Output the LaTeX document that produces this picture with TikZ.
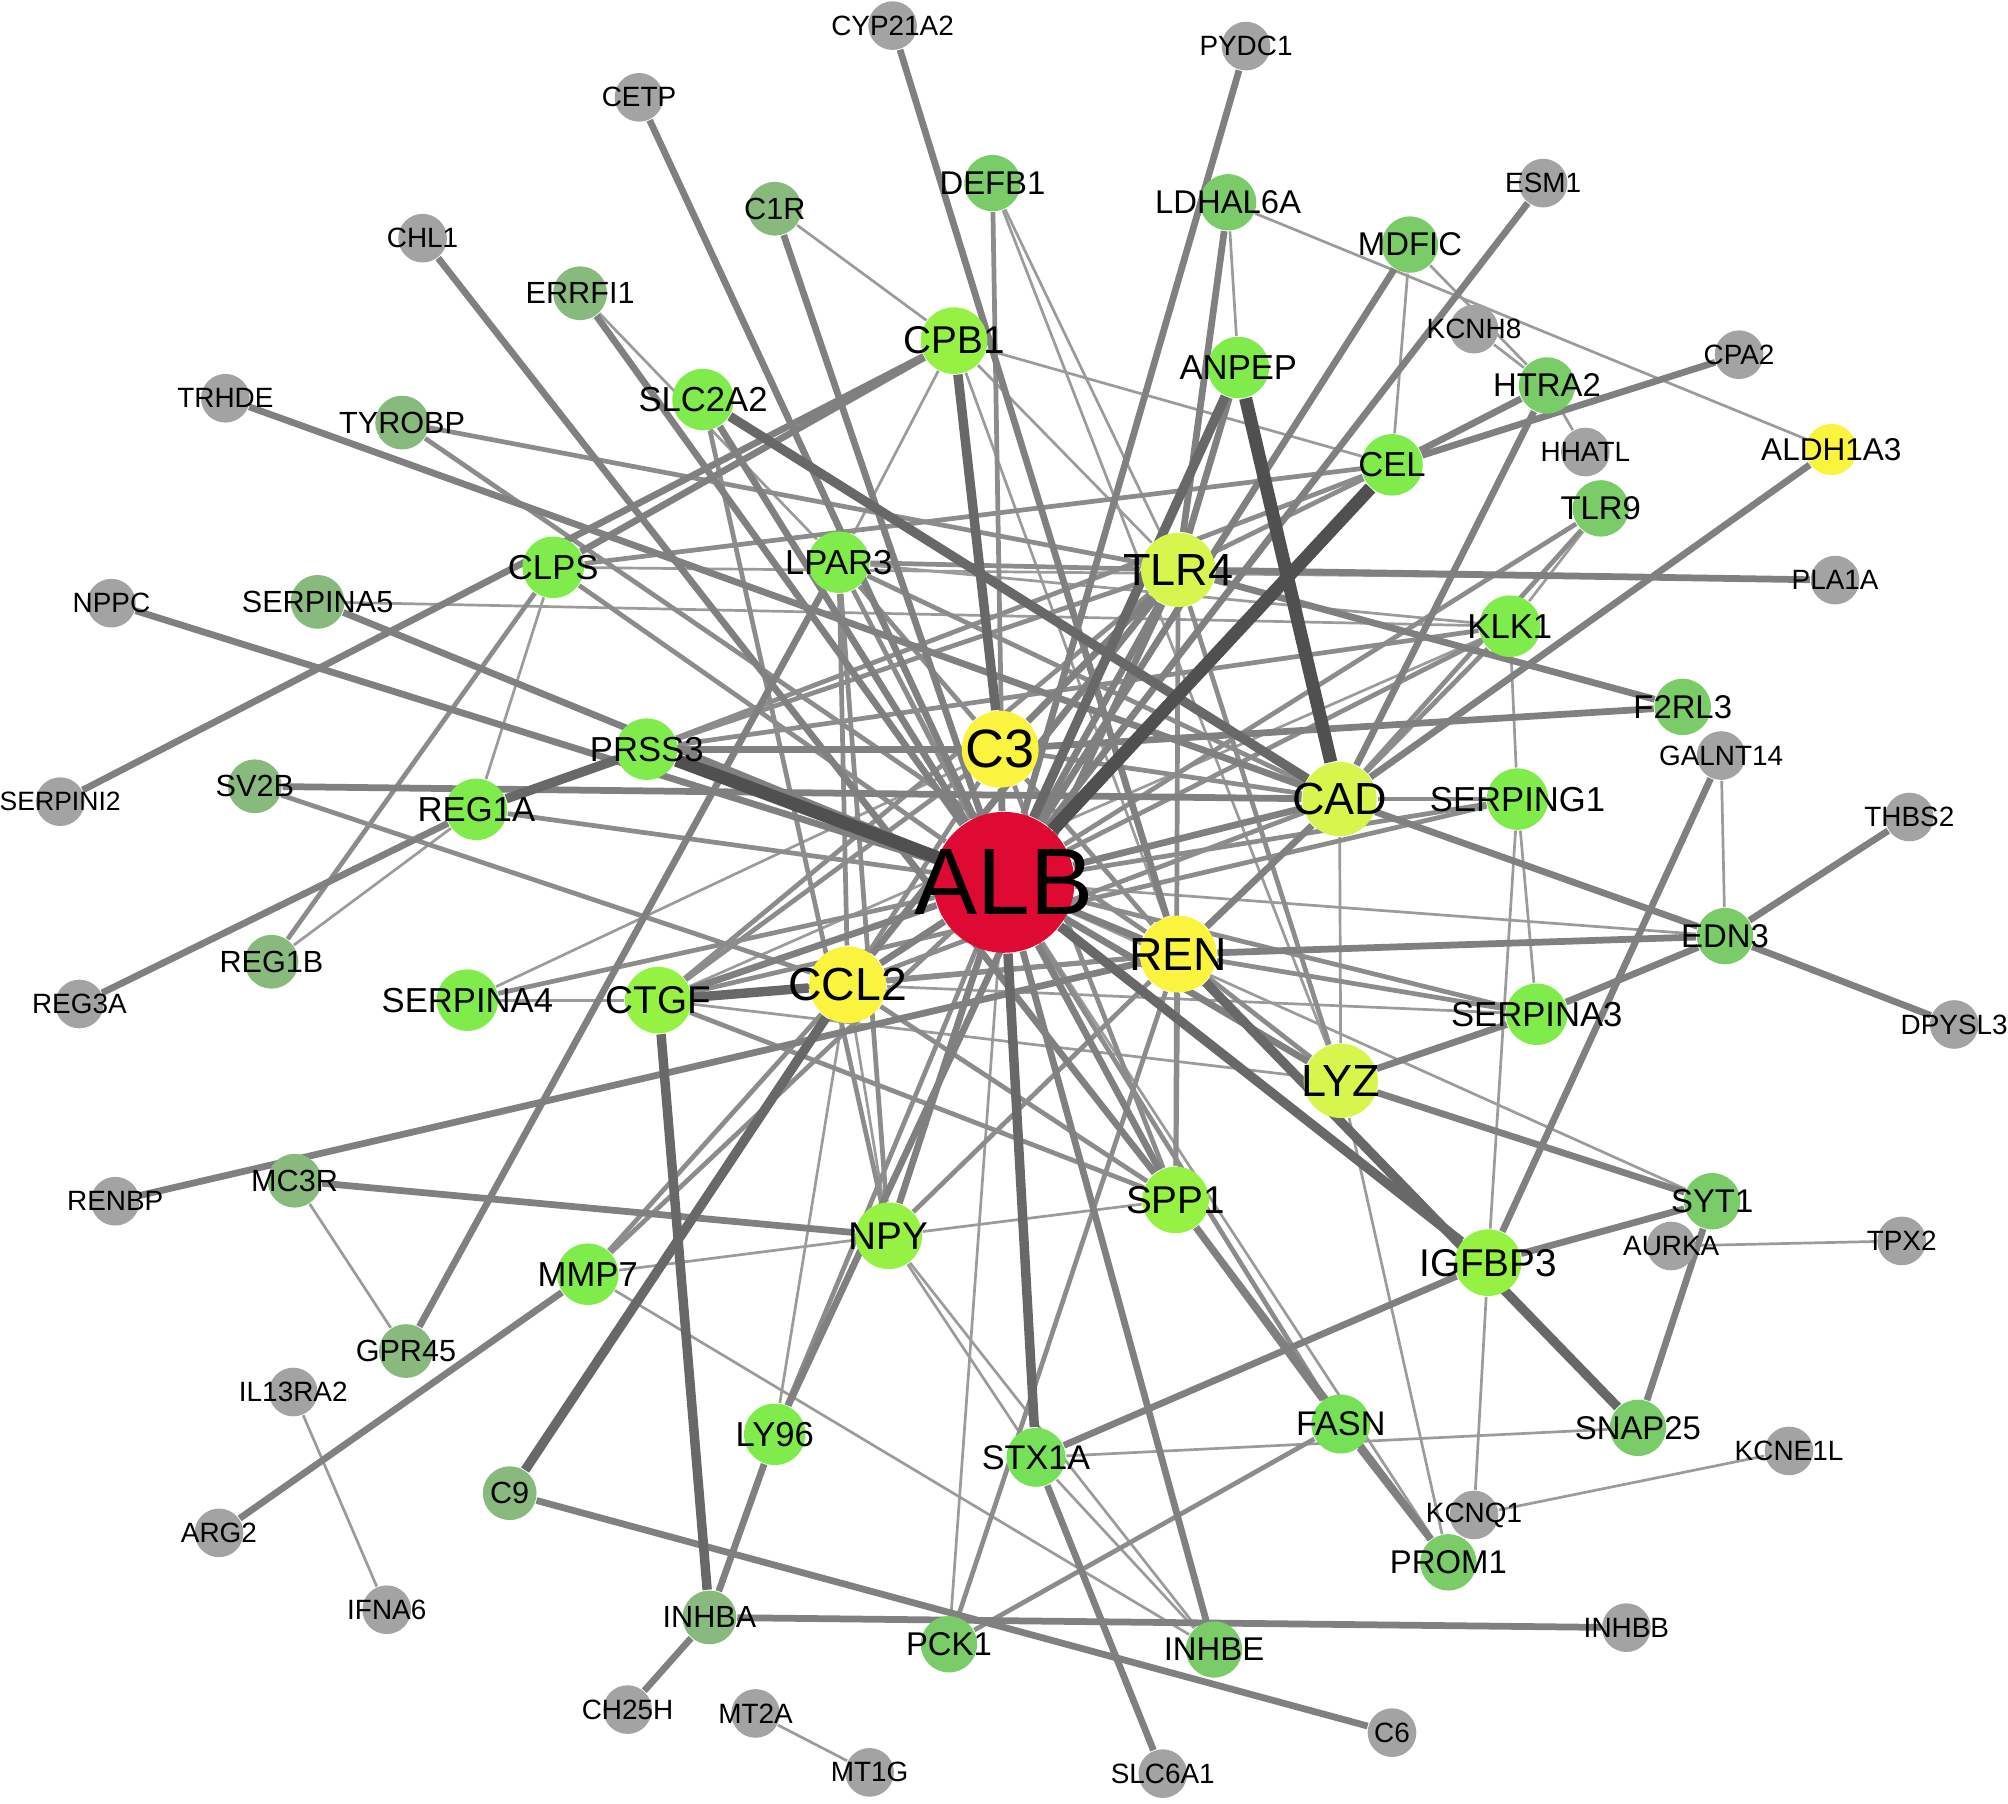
\documentclass[tikz,border=0pt]{standalone}
\usepackage{fontspec}
\setmainfont{Liberation Sans}
\usepackage{tikz}
\usepackage{xcolor}
\definecolor{ngray}{RGB}{163,163,163}
\definecolor{nsage}{RGB}{137,186,125}
\definecolor{nleaf}{RGB}{122,204,104}
\definecolor{nmid}{RGB}{118,224,86}
\definecolor{nlime}{RGB}{128,236,76}
\definecolor{nlimey}{RGB}{150,242,66}
\definecolor{nchart}{RGB}{214,246,78}
\definecolor{nyell}{RGB}{250,244,62}
\definecolor{nred}{RGB}{222,10,52}
\definecolor{ethin}{RGB}{155,155,155}
\definecolor{emid}{RGB}{140,140,140}
\definecolor{ethick}{RGB}{128,128,128}
\definecolor{eheavy}{RGB}{104,104,104}
\definecolor{edark}{RGB}{80,80,80}
\newcommand{\gfs}[1]{\fontsize{#1}{#1}\selectfont}
\pgfdeclarelayer{bg}
\pgfsetlayers{bg,main}
\tikzset{
  gnode/.style={circle,inner sep=0pt,draw=none},
  glab/.style={text=black,inner sep=0pt},
  ggray/.style={gnode,fill=ngray,minimum size=3.8mm,label={[glab,font=\gfs{6.2}]center:#1}},
  gsage/.style={gnode,fill=nsage,minimum size=4.2mm,label={[glab,font=\gfs{6.8}]center:#1}},
  gleaf/.style={gnode,fill=nleaf,minimum size=4.4mm,label={[glab,font=\gfs{7.3}]center:#1}},
  gmid/.style={gnode,fill=nmid,minimum size=4.6mm,label={[glab,font=\gfs{7.6}]center:#1}},
  glime/.style={gnode,fill=nlime,minimum size=4.8mm,label={[glab,font=\gfs{7.7}]center:#1}},
  glimey/.style={gnode,fill=nlimey,minimum size=5.2mm,label={[glab,font=\gfs{8.6}]center:#1}},
  gchart/.style={gnode,fill=nchart,minimum size=5.8mm,label={[glab,font=\gfs{10}]center:#1}},
  gyell/.style={gnode,fill=nyell,minimum size=6mm,label={[glab,font=\gfs{10.3}]center:#1}},
  wthin/.style={ethin,line width=0.6pt},
  wmid/.style={emid,line width=1.05pt},
  wthick/.style={ethick,line width=1.5pt},
  wheavy/.style={eheavy,line width=2.1pt},
  wdark/.style={edark,line width=2.9pt},
}
\begin{document}
\begin{tikzpicture}[x=0.1mm,y=-0.1mm]
  \useasboundingbox (0,0) rectangle (1568,1408);
  % ---- genes ----
  \foreach \g/\x/\y in {CYP21A2/697/20, PYDC1/973/36, CETP/499/76, ESM1/1205/143,
      CHL1/330/186, KCNH8/1151/257, CPA2/1358/277, TRHDE/176/311, HHATL/1238/353,
      NPPC/87/471, PLA1A/1433/453, GALNT14/1344/590, THBS2/1491/638,
      REG3A/62/784, DPYSL3/1526/800, RENBP/90/938, AURKA/1305/973, TPX2/1485/969,
      IL13RA2/229/1087, KCNE1L/1397/1133, ARG2/171/1197, KCNQ1/1151/1183, IFNA6/302/1257,
      INHBB/1270/1271, CH25H/490/1335, MT2A/590/1338, C6/1087/1353, MT1G/679/1384,
      SLC6A1/908/1385}
    \node[ggray=\g] (\g) at (\x,\y) {};
  \node[gnode,fill=ngray,minimum size=3.8mm,
        label={[glab,font=\gfs{5.9}]center:SERPINI2}] (SERPINI2) at (47,626) {};
  \foreach \g/\x/\y in {C1R/605/163, ERRFI1/453/229, TYROBP/314/330, SERPINA5/248/470,
      SV2B/199/614, REG1B/212/751, MC3R/230/922, GPR45/317/1055, C9/398/1166, INHBA/554/1263}
    \node[gsage=\g] (\g) at (\x,\y) {};
  \foreach \g/\x/\y in {DEFB1/775/143, LDHAL6A/959/158, MDFIC/1101/191, HTRA2/1208/301,
      TLR9/1250/397, F2RL3/1314/552, EDN3/1347/731, SYT1/1337/938, SNAP25/1279/1115,
      PROM1/1131/1220, PCK1/741/1284, INHBE/948/1288}
    \node[gleaf=\g] (\g) at (\x,\y) {};
  \foreach \g/\x/\y in {FASN/1047/1112, STX1A/809/1138}
    \node[gmid=\g] (\g) at (\x,\y) {};
  \foreach \g/\x/\y in {ANPEP/967/287, SLC2A2/549/312, CEL/1087/363, CLPS/432/443,
      LPAR3/655/439, KLK1/1179/489, PRSS3/505/585, SERPING1/1185/624, REG1A/372/632,
      SERPINA4/365/781, SERPINA3/1200/792, MMP7/459/995, LY96/605/1120}
    \node[glime=\g] (\g) at (\x,\y) {};
  \foreach \g/\x/\y in {CPB1/745/266, CTGF/514/781, SPP1/918/937, NPY/694/965, IGFBP3/1162/986}
    \node[glimey=\g] (\g) at (\x,\y) {};
  \foreach \g/\x/\y in {TLR4/920/445, CAD/1046/624, LYZ/1047/844}
    \node[gchart=\g] (\g) at (\x,\y) {};
  \foreach \g/\x/\y in {CCL2/662/769, REN/920/745}
    \node[gyell=\g] (\g) at (\x,\y) {};
  \node[gyell,label={[glab,font=\gfs{12}]center:C3}] (C3) at (781,585) {};
  \node[gnode,fill=nyell,minimum size=4mm,label={[glab,font=\gfs{7}]center:ALDH1A3}] (ALDH1A3) at (1430,351) {};
  \node[gnode,fill=nred,minimum size=11mm,label={[glab,font=\gfs{21}]center:ALB}] (ALB) at (784,689) {};
  % ---- interactions ----
  \begin{pgfonlayer}{bg}
    \foreach \a/\b in {ERRFI1/LPAR3, C1R/CPB1, DEFB1/LYZ, DEFB1/TLR4, LDHAL6A/ALDH1A3,
        LDHAL6A/ANPEP, MDFIC/CEL, MDFIC/HTRA2, KCNH8/HTRA2, HHATL/HTRA2, TLR9/KLK1,
        KLK1/SERPING1, SERPINA5/KLK1, SERPING1/SERPINA3, SERPING1/IGFBP3, GALNT14/EDN3,
        AURKA/TPX2, KCNE1L/KCNQ1, KCNQ1/IGFBP3, LYZ/PROM1, MT2A/MT1G, IL13RA2/IFNA6,
        MC3R/GPR45, INHBE/NPY, MMP7/INHBE, STX1A/INHBE, STX1A/NPY, STX1A/SNAP25, NPY/SPP1,
        MMP7/NPY, LY96/CCL2, SERPINA4/CTGF, SERPINA4/C3, REG1B/REG1A, REG1A/CLPS, CPB1/CEL,
        CPB1/LPAR3, CPB1/TLR4, CLPS/PLA1A, CAD/LYZ, CTGF/KLK1, NPY/CCL2, LPAR3/KLK1,
        CPB1/REN, LPAR3/SPP1, CCL2/SERPINA3, ALB/PCK1, ALB/SYT1, ALB/EDN3, ALB/PROM1,
        CTGF/LYZ}
      \draw[wthin] (\a) -- (\b);
    \foreach \a/\b in {TYROBP/TLR4, TYROBP/REN, REG1B/CLPS, DEFB1/ALB, SLC2A2/NPY, TLR9/ALB,
        FASN/PCK1, PCK1/REN, SV2B/CCL2, CLPS/CEL, PRSS3/CEL, KLK1/PRSS3, KLK1/ALB, CAD/KLK1,
        CAD/TLR9, CAD/CCL2, CAD/LPAR3, CAD/SERPING1, TLR4/SPP1, TLR4/CTGF, TLR4/LPAR3,
        CCL2/SPP1, CCL2/LPAR3, CCL2/REN, REN/CTGF, REN/SPP1, REN/C3, C3/CCL2, CTGF/SPP1,
        CTGF/SERPING1, LPAR3/NPY, MMP7/ALB, MMP7/CCL2, LY96/ALB, ALB/CLPS, ALB/REG1A,
        ALB/SERPINA3, ALB/SERPING1, ALB/FASN, ALB/LPAR3, SERPINA4/ALB, CEL/TLR4, REN/LYZ,
        PRSS3/TLR4, NPY/REN, SPP1/C3, LPAR3/C3, CTGF/C3, LYZ/TLR4, CAD/C3, SERPINA3/REN}
      \draw[wmid] (\a) -- (\b);
    \foreach \a/\b in {CETP/ALB, PYDC1/ALB, CYP21A2/REN, CHL1/SPP1, ERRFI1/ALB, TRHDE/CAD,
        NPPC/ALB, SERPINA5/ALB, SERPINI2/CPB1, ESM1/ALB, MDFIC/ALB, HTRA2/CAD, HTRA2/CEL,
        CPA2/CEL, ALDH1A3/CAD, PLA1A/TLR4, F2RL3/C3, GALNT14/IGFBP3, THBS2/EDN3,
        DPYSL3/EDN3, EDN3/CAD, EDN3/REN, EDN3/SERPINA3, LYZ/SERPINA3, LYZ/SYT1, SYT1/IGFBP3,
        SYT1/SNAP25, INHBA/INHBB, C9/C6, STX1A/SLC6A1, INHBE/ALB, ARG2/MMP7, RENBP/REN,
        MC3R/NPY, GPR45/LPAR3, REG3A/REG1A, SV2B/CAD, INHBA/LY96, INHBA/CH25H, SPP1/FASN,
        SPP1/PROM1, FASN/PROM1, LY96/TLR4, IGFBP3/STX1A, ANPEP/TLR4, CLPS/CPB1, ALB/C3,
        ALB/CCL2, ALB/REN, ALB/TLR4, ALB/CAD, ALB/LYZ, ALB/NPY, ALB/CTGF, ALB/SPP1,
        C3/PRSS3, CCL2/TLR4, TLR4/C3, SLC2A2/ALB, LDHAL6A/TLR4, C1R/ALB, F2RL3/TLR4, CAD/REN}
      \draw[wthick] (\a) -- (\b);
    \foreach \a/\b in {CPB1/C3, SLC2A2/CAD, STX1A/ALB, C9/CCL2, CTGF/INHBA, REG1A/PRSS3,
        CTGF/CCL2, ALB/IGFBP3, REN/SNAP25, ANPEP/ALB}
      \draw[wheavy] (\a) -- (\b);
    \foreach \a/\b in {PRSS3/ALB, ANPEP/CAD, CEL/ALB}
      \draw[wdark] (\a) -- (\b);
  \end{pgfonlayer}
\end{tikzpicture}
\end{document}
